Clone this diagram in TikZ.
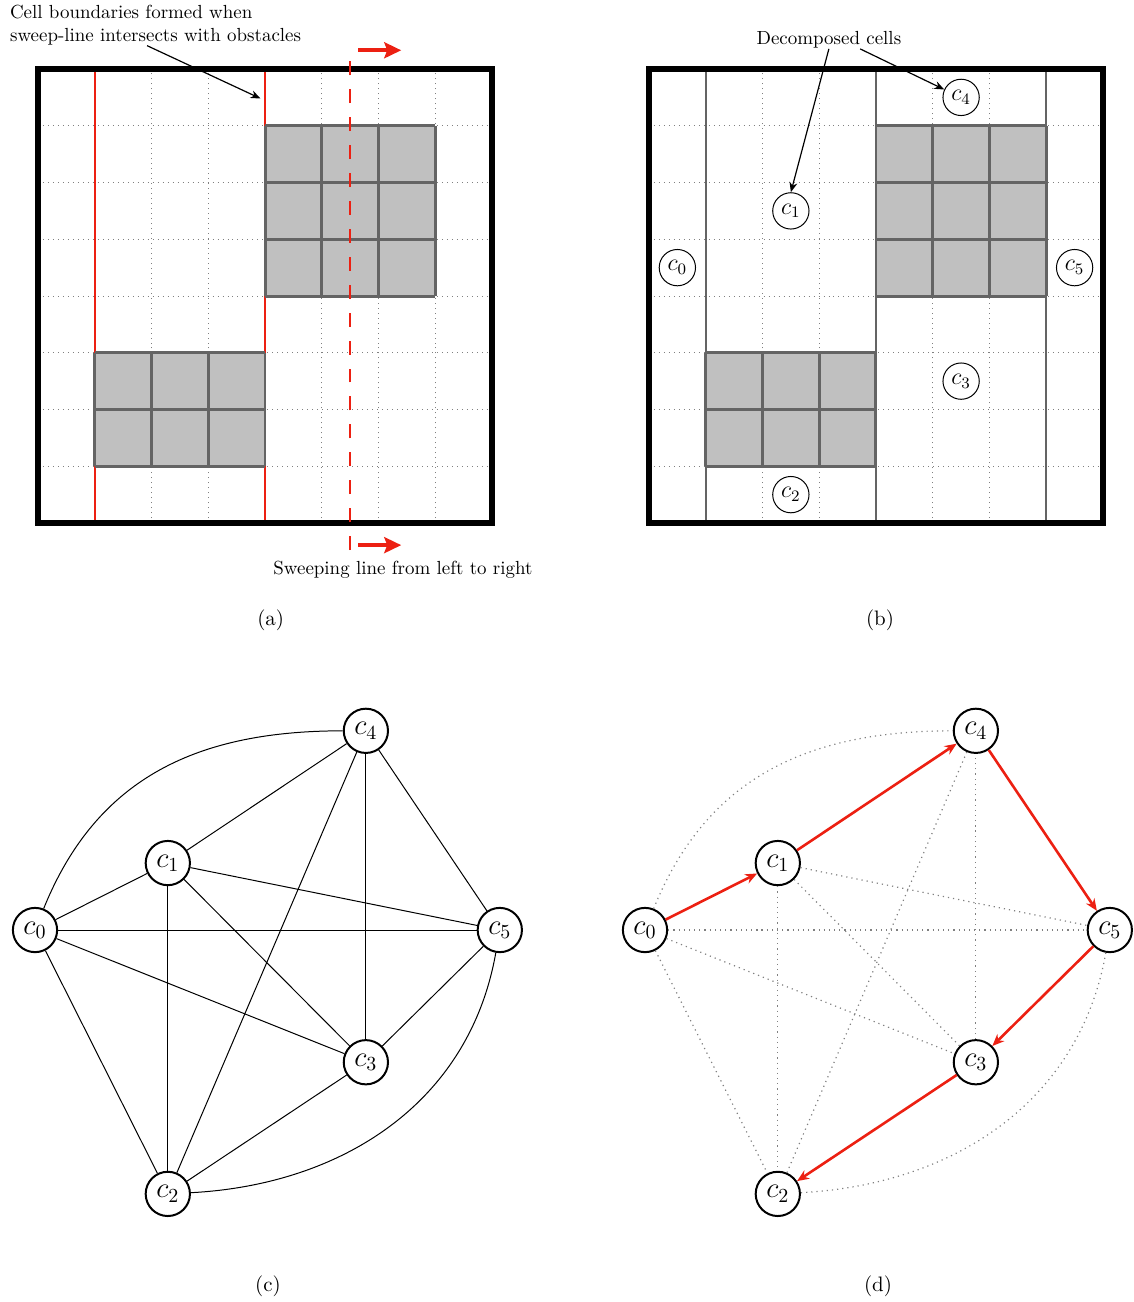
\documentclass[tikz,border=0pt]{standalone}
\usetikzlibrary{arrows.meta}
\definecolor{sweepred}{RGB}{236,32,18}
\definecolor{obsfill}{RGB}{192,192,192}
\definecolor{obsedge}{RGB}{100,100,100}
\tikzset{
  gridline/.style={dotted, draw=gray, line width=0.5pt},
  outerbox/.style={draw=black, line width=2.6pt},
  obstacle/.style={draw=obsedge, line width=1.5pt},
  cellbound/.style={draw=sweepred, line width=1.2pt},
  cellline/.style={draw=obsedge, line width=1.2pt},
  sweepline/.style={draw=sweepred, line width=1.1pt, dash pattern=on 7pt off 7pt},
  sweeparrow/.style={draw=sweepred, line width=2pt, -{Stealth[length=8.5pt,width=8pt,inset=1.5pt]}},
  pointer/.style={draw=black, line width=0.6pt, -{Stealth[length=5pt,width=4pt]}},
  note/.style={font=\fontsize{9.5}{11.5}\selectfont, inner sep=0pt},
  cellmark/.style={shape=circle, draw=black, fill=white, line width=0.5pt, minimum size=0.64cm, inner sep=0pt, font=\large},
  vertex/.style={shape=circle, draw=black, fill=white, line width=1pt, minimum size=0.78cm, inner sep=0pt, font=\Large},
  link/.style={draw=black, line width=0.5pt},
  faintlink/.style={draw=gray, dotted, line width=0.6pt},
  pathlink/.style={draw=sweepred, line width=1.3pt, -{Stealth[length=6pt,width=5pt]}},
  subcap/.style={font=\fontsize{10.5}{12}\selectfont}
}
\begin{document}
\begin{tikzpicture}
\useasboundingbox (0,0) rectangle (19.965,-22.943);

\begin{scope}[shift={(0.67,-9.216)}]
  \draw[gridline] (0,0) grid (8,8);
  \draw[cellbound] (1,0) -- (1,8);
  \draw[cellbound] (4,0) -- (4,8);
  \fill[obsfill] (4,4) rectangle (7,7);
  \draw[obstacle] (4,4) grid (7,7);
  \fill[obsfill] (1,1) rectangle (4,3);
  \draw[obstacle] (1,1) grid (4,3);
  \draw[outerbox] (0,0) rectangle (8,8);
  \draw[sweepline] (5.5,-0.476) -- (5.5,8.37);

  \coordinate (toptail) at (5.64,8.33);
  \coordinate (tophead) at (6.4,8.33);
  \coordinate (bottail) at (5.64,-0.39);
  \coordinate (bothead) at (6.4,-0.39);
  \draw[sweeparrow] (toptail) -- (tophead);
  \draw[sweeparrow] (bottail) -- (bothead);

  \node[note, anchor=north west, align=left] (boundnote) at (-0.5,9.13) {Cell boundaries formed when\\sweep-line intersects with obstacles};
  \coordinate (boundhit) at (3.92,7.48);
  \draw[pointer] ([xshift=-0.15cm]boundnote.south) -- (boundhit);
  \node[note] (sweepnote) at (6.43,-0.83) {Sweeping line from left to right};
  \node[subcap] (capa) at (4.1,-1.71) {(a)};
\end{scope}

\begin{scope}[shift={(11.436,-9.216)}]
  \draw[gridline] (0,0) grid (8,8);
  \draw[cellline] (1,0) -- (1,8);
  \draw[cellline] (4,0) -- (4,8);
  \draw[cellline] (7,0) -- (7,8);
  \fill[obsfill] (4,4) rectangle (7,7);
  \draw[obstacle] (4,4) grid (7,7);
  \fill[obsfill] (1,1) rectangle (4,3);
  \draw[obstacle] (1,1) grid (4,3);
  \draw[outerbox] (0,0) rectangle (8,8);

  \node[cellmark] (b0) at (0.5,4.5) {$c_0$};
  \node[cellmark] (b1) at (2.5,5.5) {$c_1$};
  \node[cellmark] (b2) at (2.5,0.5) {$c_2$};
  \node[cellmark] (b3) at (5.5,2.5) {$c_3$};
  \node[cellmark] (b4) at (5.5,7.5) {$c_4$};
  \node[cellmark] (b5) at (7.5,4.5) {$c_5$};

  \node[note] (decomp) at (3.17,8.51) {Decomposed cells};
  \draw[pointer] (decomp.south) -- (b1.north);
  \draw[pointer] ([xshift=0.55cm]decomp.south) -- (b4.155);
  \node[subcap] (capb) at (4.07,-1.71) {(b)};
\end{scope}

\begin{scope}[shift={(0.617,-16.388)}]
  \node[vertex] (c0) at (0,0) {$c_0$};
  \node[vertex] (c1) at (2.34,1.18) {$c_1$};
  \node[vertex] (c2) at (2.34,-4.65) {$c_2$};
  \node[vertex] (c3) at (5.83,-2.33) {$c_3$};
  \node[vertex] (c4) at (5.83,3.51) {$c_4$};
  \node[vertex] (c5) at (8.19,0) {$c_5$};

  \path [link] (c0) edge[out=68,in=180,looseness=1.05] (c4);
  \path [link] (c0) edge (c1);
  \path [link] (c0) edge (c5);
  \path [link] (c0) edge (c3);
  \path [link] (c0) edge (c2);
  \path [link] (c1) edge (c4);
  \path [link] (c1) edge (c5);
  \path [link] (c1) edge (c3);
  \path [link] (c1) edge (c2);
  \path [link] (c2) edge (c4);
  \path [link] (c2) edge (c3);
  \path [link] (c2) edge[out=3,in=-100] (c5);
  \path [link] (c3) edge (c4);
  \path [link] (c3) edge (c5);
  \path [link] (c4) edge (c5);
\end{scope}

\begin{scope}[shift={(11.366,-16.388)}]
  \node[vertex] (d0) at (0,0) {$c_0$};
  \node[vertex] (d1) at (2.34,1.18) {$c_1$};
  \node[vertex] (d2) at (2.34,-4.65) {$c_2$};
  \node[vertex] (d3) at (5.83,-2.33) {$c_3$};
  \node[vertex] (d4) at (5.83,3.51) {$c_4$};
  \node[vertex] (d5) at (8.19,0) {$c_5$};

  \path [faintlink] (d0) edge[out=68,in=180,looseness=1.05] (d4);
  \path [faintlink] (d0) edge (d5);
  \path [faintlink] (d0) edge (d3);
  \path [faintlink] (d0) edge (d2);
  \path [faintlink] (d1) edge (d5);
  \path [faintlink] (d1) edge (d3);
  \path [faintlink] (d1) edge (d2);
  \path [faintlink] (d2) edge (d4);
  \path [faintlink] (d2) edge[out=3,in=-100] (d5);
  \path [faintlink] (d3) edge (d4);

  \path [pathlink] (d0) edge (d1);
  \path [pathlink] (d1) edge (d4);
  \path [pathlink] (d4) edge (d5);
  \path [pathlink] (d5) edge (d3);
  \path [pathlink] (d3) edge (d2);
\end{scope}

\node[subcap] (capc) at (4.722,-22.661) {(c)};
\node[subcap] (capd) at (15.471,-22.661) {(d)};
\end{tikzpicture}
\end{document}
